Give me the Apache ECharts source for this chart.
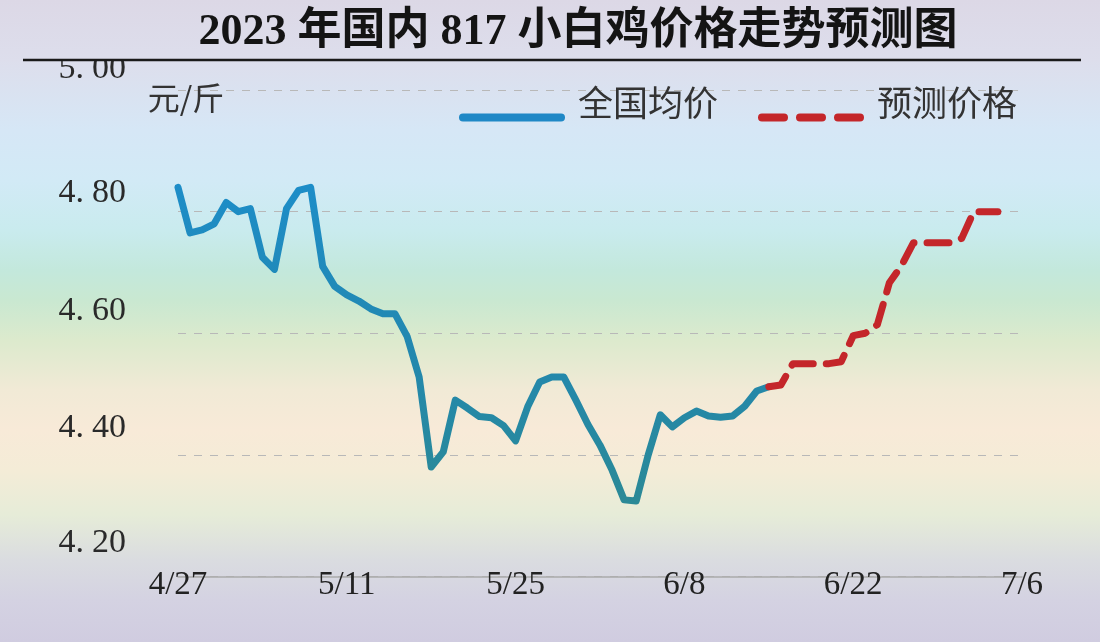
<!DOCTYPE html>
<html>
<head>
<meta charset="utf-8">
<script src="https://cdn.jsdelivr.net/npm/echarts@6/dist/echarts.min.js"></script>
<style>
html,body{margin:0;padding:0;}
#c{width:1100px;height:642px;
background:linear-gradient(to bottom,#dcd8e6 0px,#dddeec 60px,#d6e7f6 130px,#d2eaf6 180px,#c9ebee 230px,#c3e8dc 270px,#c9e8d1 300px,#dceacd 340px,#f1ead6 390px,#f8ead8 430px,#f4ecd7 470px,#e6ecd8 515px,#dadce0 560px,#d4d2e2 600px,#d0cce0 642px);}
</style>
</head>
<body>
<div id="c"></div>
<script>
var titleText = '2023 年国内 817 小白鸡价格走势预测图';
var unitName = '元/斤';
var seriesNames = ['全国均价', '预测价格'];
var dates = ['4/27','4/28','4/29','4/30','5/1','5/2','5/3','5/4','5/5','5/6','5/7','5/8','5/9','5/10',
'5/11','5/12','5/13','5/14','5/15','5/16','5/17','5/18','5/19','5/20','5/21','5/22','5/23','5/24',
'5/25','5/26','5/27','5/28','5/29','5/30','5/31','6/1','6/2','6/3','6/4','6/5','6/6','6/7',
'6/8','6/9','6/10','6/11','6/12','6/13','6/14','6/15','6/16','6/17','6/18','6/19','6/20','6/21',
'6/22','6/23','6/24','6/25','6/26','6/27','6/28','6/29','6/30','7/1','7/2','7/3','7/4','7/5','7/6'];
var nationalAvg = [4.84,4.765,4.77,4.78,4.815,4.80,4.805,4.725,4.705,4.805,4.835,4.84,4.71,4.677,
4.663,4.653,4.64,4.632,4.632,4.595,4.528,4.38,4.405,4.49,4.477,4.463,4.461,4.448,
4.423,4.479,4.52,4.528,4.528,4.49,4.45,4.416,4.375,4.326,4.324,4.40,4.466,4.446,
4.461,4.472,4.464,4.462,4.464,4.48,4.505,4.512];
var forecast = [4.512,4.515,4.55,4.55,4.55,4.55,4.553,4.596,4.60,4.614,4.683,4.711,4.749,4.749,4.749,4.749,4.756,4.80,4.80,4.80];
var forecastStart = 49;
var labelLift = {'4.20':33,'4.40':27,'4.60':22,'4.80':19,'5.00':21};

var blueData = dates.map(function(d,i){ return i < nationalAvg.length ? nationalAvg[i] : null; });
var redData = dates.map(function(d,i){ var k = i - forecastStart; return (k >= 0 && k < forecast.length) ? forecast[k] : null; });

var rich = {};
Object.keys(labelLift).forEach(function(k){
  var p = labelLift[k]*2;
  rich['i'+k.replace('.','')] = {fontFamily:'Liberation Serif', fontSize:34, color:'#2a2a2a', padding:[0,8,p,0]};
  rich['f'+k.replace('.','')] = {fontFamily:'Liberation Serif', fontSize:34, color:'#2a2a2a', padding:[0,0,p,0]};
});

var chart = echarts.init(document.getElementById('c'), null, {renderer:'canvas'});
chart.setOption({
  backgroundColor: 'transparent',
  animation: false,
  title: {
    text: titleText, left: 573, top: 6, textAlign: 'center', z: 8,
    textStyle: {fontFamily: 'Liberation Serif, "Noto Sans CJK SC"', fontWeight: 'bold', fontSize: 44, color: '#141414'}
  },
  graphic: [
    {type:'rect', z: 5, shape:{x:0,y:0,width:1100,height:61},
     style:{fill:{type:'linear',x:0,y:0,x2:0,y2:1,colorStops:[{offset:0,color:'#dcd8e6'},{offset:1,color:'#dddeec'}]}}},
    {type:'line', z: 9, shape:{x1:23,y1:60,x2:1081,y2:60}, style:{stroke:'#1a1a1a', lineWidth:2.5}}
  ],
  legend: {
    left: 454, top: 80, itemWidth: 98, itemHeight: 14, itemGap: 40,
    itemStyle: {opacity: 0},
    data: [
      {name: seriesNames[0], itemStyle:{opacity:0}, lineStyle:{color:'#1f88c6', width:8, cap:'round', type:'solid'}},
      {name: seriesNames[1], itemStyle:{opacity:0}, lineStyle:{color:'#c4262a', width:8, cap:'round', type:[22,16]}}
    ],
    formatter: function(name){ return '{t|' + name + '}'; },
    textStyle: {
      fontFamily:'"Noto Sans CJK SC"', fontSize: 35, color:'#333',
      rich: {t: {fontFamily:'"Noto Sans CJK SC"', fontSize: 35, color:'#333', padding:[0,0,30,12]}}
    }
  },
  grid: {left: 178, right: 78, top: 90, bottom: 65.5, containLabel: false},
  xAxis: {
    type: 'category', data: dates, boundaryGap: false,
    axisLine: {lineStyle:{color:'#aaaaaa', width:1.5}},
    axisTick: {show:false},
    axisLabel: {interval: 13, margin: -8, fontFamily:'Liberation Serif', fontSize: 33, color:'#222'},
    splitLine: {show:false}
  },
  yAxis: {
    type: 'value', min: 4.2, max: 5.0, interval: 0.2,
    name: unitName, nameLocation: 'end', nameGap: -8,
    nameTextStyle: {fontFamily:'"Noto Sans CJK SC"', fontSize: 32, color:'#333', align:'center', verticalAlign:'middle', padding:[0,0,0,16]},
    axisLine: {show:false}, axisTick: {show:false},
    axisLabel: {
      margin: 52,
      formatter: function(v){
        var s = v.toFixed(2); var key = s.replace('.','');
        var parts = s.split('.');
        return '{i'+key+'|'+parts[0]+'.}{f'+key+'|'+parts[1]+'}';
      },
      rich: rich
    },
    splitLine: {lineStyle:{color:'#b8b8b8', width:1, type:[8,8]}}
  },
  series: [
    {
      name: seriesNames[0], type: 'line', data: blueData, symbol: 'none', showSymbol: false,
      connectNulls: false, z: 3,
      lineStyle: {width: 7, cap:'round', join:'round',
        color: {type:'linear',x:0,y:0,x2:0,y2:1,colorStops:[{offset:0,color:'#1d8dc8'},{offset:0.5,color:'#2288b0'},{offset:1,color:'#2b8996'}]}}
    },
    {
      name: seriesNames[1], type: 'line', data: redData, symbol: 'none', showSymbol: false,
      connectNulls: false, z: 4,
      lineStyle: {width: 7, color:'#c4262a', type:[22,13], cap:'round', join:'round'}
    }
  ]
});
</script>
</body>
</html>
